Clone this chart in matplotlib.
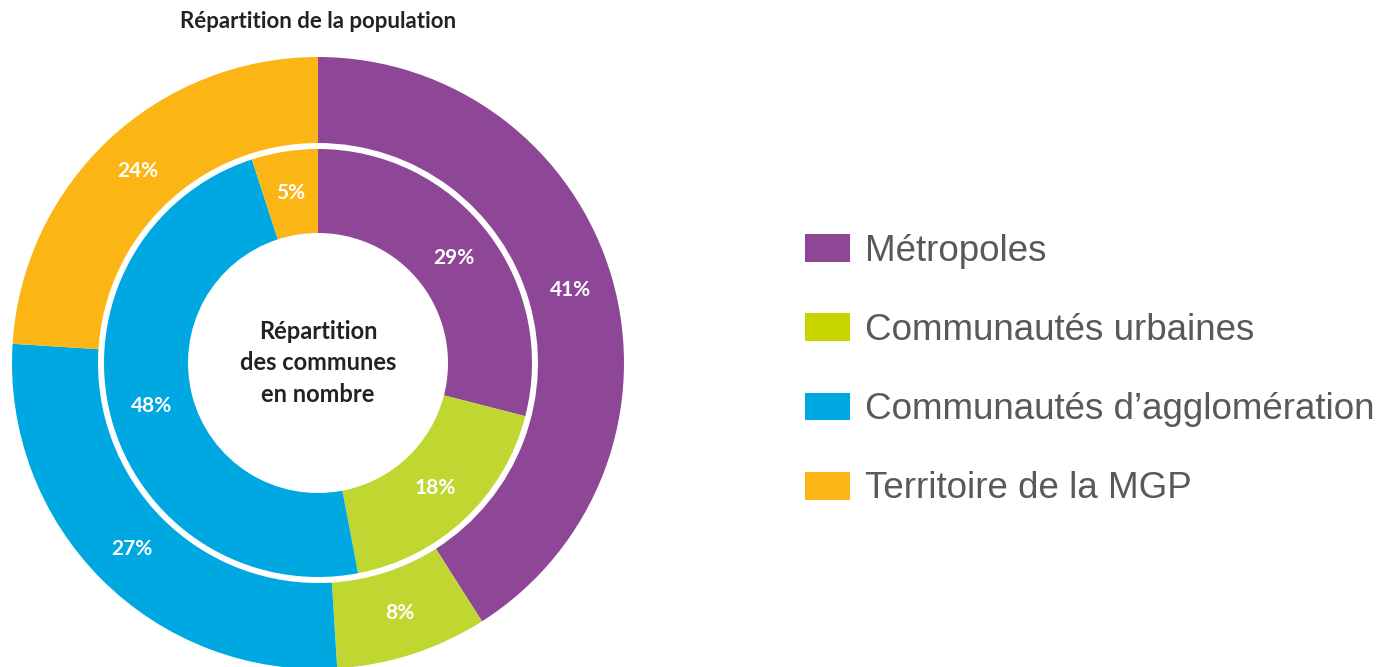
import matplotlib.pyplot as plt
from matplotlib.patches import Patch

categories = ["Métropoles", "Communautés urbaines",
              "Communautés d’agglomération", "Territoire de la MGP"]
population = [41, 8, 27, 24]      # outer ring
communes = [29, 18, 48, 5]        # inner ring
ring_colors = ["#8E4797", "#BFD730", "#00A8E1", "#FBB615"]
legend_colors = ["#8E4797", "#C8D400", "#00A8E1", "#FBB615"]

title = "Répartition de la population"
center_text = "Répartition\ndes communes\nen nombre"

fig = plt.figure(figsize=(13.85, 6.67), dpi=100)
ax = fig.add_axes([0, 0, 1, 1])

cx, cy = 318, 304
R_out, w_out = 306, 86
R_in, w_in = 214, 84

lbl = dict(color="white", fontsize=15, fontweight="bold", family="Lato")

ax.pie(population, radius=R_out, center=(cx, cy), startangle=90,
       counterclock=False, colors=ring_colors,
       wedgeprops=dict(width=w_out, edgecolor="none"),
       autopct="%d%%", pctdistance=1 - w_out / 2 / R_out, textprops=lbl,
       frame=True)
ax.pie(communes, radius=R_in, center=(cx, cy), startangle=90,
       counterclock=False, colors=ring_colors,
       wedgeprops=dict(width=w_in, edgecolor="none"),
       autopct="%d%%", pctdistance=1 - w_in / 2 / R_in, textprops=lbl,
       frame=True)
ax.set_xlim(0, 1385)
ax.set_ylim(0, 667)
ax.set_aspect("equal")
ax.axis("off")

ax.text(cx, 645, title, ha="center", va="center", fontsize=16,
        fontweight="bold", family="Lato", color="#222222")
ax.text(cx, cy, center_text, ha="center", va="center", fontsize=17,
        fontweight="bold", family="Lato", color="#222222", linespacing=1.45)

handles = [Patch(facecolor=c, edgecolor="none") for c in legend_colors]
fig.legend(handles, categories, loc="upper left",
           bbox_to_anchor=(805 / 1385, 1 - 234 / 667), frameon=False,
           borderpad=0, borderaxespad=0,
           prop=dict(family="Liberation Sans", size=26.5),
           labelcolor="#595959", handlelength=1.22, handleheight=0.79,
           handletextpad=0.4, labelspacing=1.2)

fig.savefig("out.png", dpi=100, facecolor="white")
